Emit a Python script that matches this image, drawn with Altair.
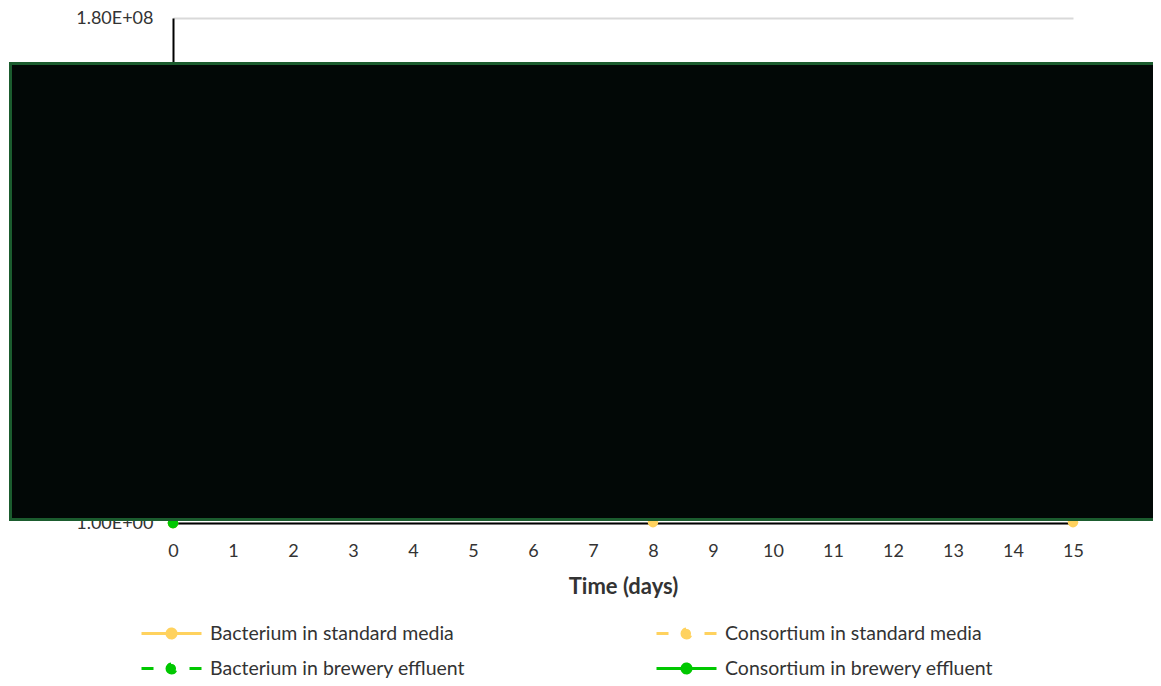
import altair as alt
import pandas as pd

# ---- data (values mostly hidden under the overlay box in the reference) ----
days = [0, 1, 3, 5, 8, 10, 12, 15]
series_names = [
    "Bacterium in standard media",
    "Bacterium in brewery effluent",
    "Consortium in standard media",
    "Consortium in brewery effluent",
]
bact_std = [1, 3.0e7, 8.5e7, 1.25e8, 9.0e7, 7.0e7, 5.5e7, 3.5e7]
bact_brew = [1, 2.5e7, 7.0e7, 1.2e8, 1.0e8, 8.0e7, 6.0e7, 4.0e7]
cons_std = [1, 4.2e7, 9.5e7, 6.0e7, 3.0e5, 5.5e7, 3.0e7, 3.0e5]
cons_brew = [1, 3.5e7, 9.0e7, 1.45e8, 1.3e8, 1.1e8, 9.0e7, 7.0e7]
series_values = [bact_std, bact_brew, cons_std, cons_brew]
series_colors = ["#FFD25E", "#00C800", "#FFD25E", "#00C800"]
series_dash = [[1, 0], [12, 9], [12, 9], [1, 0]]

x_ticks = list(range(0, 16))
y_ticks = [1] + [2e7 * k for k in range(1, 10)]

rows = []
for name, vals in zip(series_names, series_values):
    for d, v in zip(days, vals):
        rows.append({"day": d, "value": v, "series": name})
df = pd.DataFrame(rows)

# legend symbols (stroke only): line + dot, or dash + dot + dash
DOT = ("M-0.15,0A0.15,0.15,0,1,0,0.15,0A0.15,0.15,0,1,0,-0.15,0Z"
       "M-0.08,0A0.08,0.08,0,1,0,0.08,0A0.08,0.08,0,1,0,-0.08,0Z"
       "M-0.03,0A0.03,0.03,0,1,0,0.03,0A0.03,0.03,0,1,0,-0.03,0Z")
SOLID = "M-1,0H1" + DOT
DASHED = "M-1,0H-0.6M0.6,0H1" + DOT
series_symbols = [SOLID, DASHED, DASHED, SOLID]

FONT = "Lato"
TEXT = "#333333"

color_scale = alt.Scale(domain=series_names, range=series_colors)
dash_scale = alt.Scale(domain=series_names, range=series_dash)
shape_scale = alt.Scale(domain=series_names, range=series_symbols)

x_enc = alt.X(
    "day:Q",
    scale=alt.Scale(domain=[0, 15], nice=False, zero=False),
    axis=alt.Axis(
        values=x_ticks, format="d", title="Time (days)", grid=False, ticks=False,
        labelFlush=False, labelOverlap=False,
        domainColor="#000000", domainWidth=2,
        labelFont=FONT, labelFontSize=18, labelColor=TEXT, labelPadding=19,
        titleFont=FONT, titleFontSize=22, titleFontWeight="bold", titleColor=TEXT,
        titlePadding=16,
    ),
)
ylab = "floor(log(datum.value)/LN10 + 1e-9)"
y_enc = alt.Y(
    "value:Q",
    scale=alt.Scale(domain=[1, 1.8e8], nice=False, zero=False),
    axis=alt.Axis(
        values=y_ticks, title=None, ticks=False, labelFlush=False,
        labelExpr="format(datum.value / pow(10, " + ylab + "), '.2f') + 'E+' + (" + ylab
        + " < 10 ? '0' : '') + " + ylab,
        domainColor="#000000", domainWidth=2,
        gridColor="#D9D9D9", gridWidth=2,
        labelFont=FONT, labelFontSize=18, labelColor=TEXT, labelPadding=20,
    ),
)

lines = alt.Chart(df).mark_line(strokeWidth=3).encode(
    x=x_enc,
    y=y_enc,
    color=alt.Color("series:N", scale=color_scale),
    strokeDash=alt.StrokeDash("series:N", scale=dash_scale, legend=None),
    order=alt.Order("day:Q"),
)

points = alt.Chart(df).mark_point(filled=True, size=110, opacity=1, shape="circle").encode(
    x="day:Q",
    y="value:Q",
    color=alt.Color("series:N", scale=color_scale),
)

legend_spec = alt.Legend(
    title=None, orient="none", legendX=-33, legendY=598,
    columns=2, gridAlign="all", columnPadding=177, rowPadding=0,
    clipHeight=35, symbolSize=3600, symbolStrokeWidth=3,
    labelFont=FONT, labelFontSize=19.5, labelColor=TEXT, labelOffset=7,
    padding=0, labelLimit=400,
)

legend_layer = alt.Chart(df).transform_filter("false").mark_point(
    filled=False, strokeWidth=3, opacity=1
).encode(
    x="day:Q",
    y="value:Q",
    color=alt.Color("series:N", scale=color_scale, legend=legend_spec),
    shape=alt.Shape("series:N", scale=shape_scale, legend=legend_spec),
)

# overlay box that covers the plot in the reference (pixel geometry, not data)
BOX_LEFT, BOX_RIGHT, BOX_TOP, BOX_BOTTOM = -162.5, 985, 45.5, 501.5
box = alt.Chart(pd.DataFrame({"box": [0]})).mark_rect(
    fill="#020806", stroke="#1B5C2E", strokeWidth=3
).encode(
    x=alt.value(BOX_LEFT), x2=alt.value(BOX_RIGHT),
    y=alt.value(BOX_TOP), y2=alt.value(BOX_BOTTOM),
)

chart = alt.layer(lines, points, legend_layer, box).properties(
    width=900, height=505,
    background="white",
    autosize=alt.AutoSizeParams(type="none"),
    padding={"left": 165, "top": 10, "right": 80, "bottom": 155},
).configure_view(strokeWidth=0)

chart.save("out.html", embed_options={"renderer": "svg", "actions": False})
